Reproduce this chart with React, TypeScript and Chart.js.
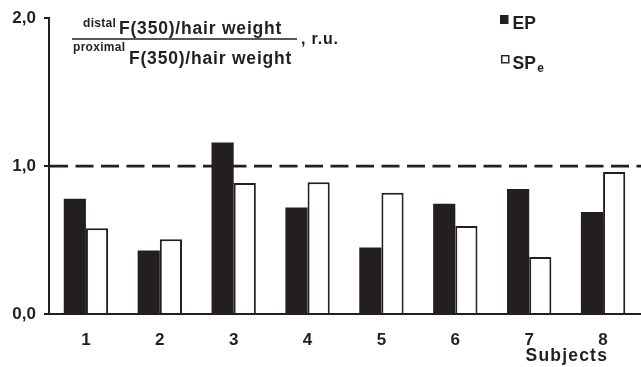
import { useEffect, useRef } from 'react';
import { Chart, registerables } from 'chart.js';

Chart.register(...registerables);

const subjects = ['1', '2', '3', '4', '5', '6', '7', '8'];
const epValues = [0.78, 0.43, 1.16, 0.72, 0.45, 0.745, 0.845, 0.69];
const spValues = [0.58, 0.505, 0.885, 0.89, 0.82, 0.595, 0.385, 0.96];
const seriesNames = ['EP', 'SP'];
const seriesSubscripts = ['', 'e'];
const yTickValues = [0, 1, 2];
const referenceLevel = [1.0];
const xAxisTitle = 'Subjects';
const numeratorSup = 'distal';
const denominatorSup = 'proximal';
const fractionBody = 'F(350)/hair weight';
const unitText = ', r.u.';

const INK = '#231f20';
const FONT = '"Liberation Sans", Arial, Helvetica, sans-serif';

const extrasPlugin = {
  id: 'extras',
  afterDatasetsDraw(chart: any) {
    const { ctx, chartArea, scales } = chart;
    const y = scales.y;
    const x = scales.x;
    ctx.save();
    // reference dashed line
    referenceLevel.forEach((v) => {
      const py = y.getPixelForValue(v);
      ctx.beginPath();
      ctx.setLineDash([18, 7.5]);
      ctx.lineWidth = 2.6;
      ctx.strokeStyle = INK;
      ctx.moveTo(chartArea.left + 1, py);
      ctx.lineTo(chart.width, py);
      ctx.stroke();
    });
    ctx.setLineDash([]);
    // extend x axis line to right edge
    const py0 = y.getPixelForValue(0);
    ctx.beginPath();
    ctx.lineWidth = 2;
    ctx.strokeStyle = INK;
    ctx.moveTo(chartArea.right - 1, py0);
    ctx.lineTo(chart.width, py0);
    ctx.stroke();

    ctx.fillStyle = INK;
    ctx.textBaseline = 'alphabetic';
    ctx.textAlign = 'left';
    // title fraction
    (ctx as any).letterSpacing = '0.3px';
    ctx.font = `bold 12px ${FONT}`;
    ctx.fillText(numeratorSup, 83, 27);
    ctx.fillText(denominatorSup, 73, 50.5);
    (ctx as any).letterSpacing = '0.8px';
    ctx.font = `bold 17.5px ${FONT}`;
    ctx.fillText(fractionBody, 119, 34);
    ctx.fillText(fractionBody, 129, 63.5);
    ctx.font = `bold 16px ${FONT}`;
    ctx.fillText(unitText, 301, 43.5);
    ctx.beginPath();
    ctx.lineWidth = 1.5;
    ctx.moveTo(72, 39);
    ctx.lineTo(297, 39);
    ctx.stroke();

    // legend
    (ctx as any).letterSpacing = '0px';
    chart.data.datasets.forEach((ds: any, i: number) => {
      const top = 15 + i * 40;
      const lx = 500 + i;
      if (i === 0) {
        ctx.fillStyle = ds.backgroundColor;
        ctx.fillRect(lx, top, 8.5, 9);
      } else {
        ctx.fillStyle = ds.backgroundColor;
        ctx.fillRect(lx, top, 8.5, 8.5);
        ctx.lineWidth = 1.4;
        ctx.strokeStyle = ds.borderColor;
        ctx.strokeRect(lx + 0.7, top + 0.7, 7.1, 7.1);
      }
      ctx.fillStyle = INK;
      ctx.font = `bold 17.5px ${FONT}`;
      const name = seriesNames[i];
      ctx.fillText(name, 512.5, top + 13.5);
      const w = ctx.measureText(name).width;
      if (seriesSubscripts[i]) {
        ctx.font = `bold 12px ${FONT}`;
        ctx.fillText(seriesSubscripts[i], 512.5 + w + 1.5, top + 17);
      }
    });

    // x axis title
    (ctx as any).letterSpacing = '1.2px';
    ctx.font = `bold 17.5px ${FONT}`;
    ctx.textAlign = 'right';
    const lastX = x.getPixelForValue(subjects.length - 1);
    ctx.fillText(xAxisTitle, lastX + 5, 361);
    ctx.restore();
  },
};

export default function App() {
  const ref = useRef<HTMLCanvasElement | null>(null);
  useEffect(() => {
    document.body.style.margin = '0';
    if (!ref.current) return;
    const chart = new Chart(ref.current, {
      type: 'bar',
      data: {
        labels: subjects,
        datasets: [
          {
            label: seriesNames[0],
            data: epValues,
            backgroundColor: INK,
            borderWidth: 0,
            categoryPercentage: 0.6,
            barPercentage: 1,
          },
          {
            label: seriesNames[1] + seriesSubscripts[1],
            data: spValues,
            backgroundColor: '#ffffff',
            borderColor: INK,
            borderWidth: 2,
            categoryPercentage: 0.6,
            barPercentage: 1,
          },
        ],
      },
      options: {
        animation: false,
        responsive: true,
        maintainAspectRatio: false,
        layout: { padding: { top: 16, right: 1, left: 0, bottom: 0 } },
        plugins: {
          legend: { display: false },
          tooltip: { enabled: false },
          title: { display: false },
        },
        scales: {
          x: {
            type: 'category',
            grid: { display: false },
            border: { display: true, color: INK, width: 2 },
            ticks: {
              color: INK,
              font: { family: FONT, size: 17, weight: 'bold' },
              padding: 8,
              maxRotation: 0,
              autoSkip: false,
            },
            afterFit: (s: any) => {
              s.height = 53;
            },
          },
          y: {
            min: 0,
            max: 2,
            grid: {
              display: true,
              drawOnChartArea: false,
              drawTicks: true,
              tickLength: 5,
              color: INK,
              lineWidth: 2,
            },
            border: { display: true, color: INK, width: 2 },
            afterBuildTicks: (s: any) => {
              s.ticks = yTickValues.map((v) => ({ value: v }));
            },
            ticks: {
              color: INK,
              font: { family: FONT, size: 17, weight: 'bold' },
              padding: 8,
              callback: (v: any) => Number(v).toFixed(1).replace('.', ','),
            },
            afterFit: (s: any) => {
              s.width = 49;
            },
          },
        },
      },
      plugins: [extrasPlugin],
    });
    return () => chart.destroy();
  }, []);
  return (
    <div style={{ position: 'absolute', left: 0, top: 0, width: 641, height: 367 }}>
      <canvas ref={ref} />
    </div>
  );
}
